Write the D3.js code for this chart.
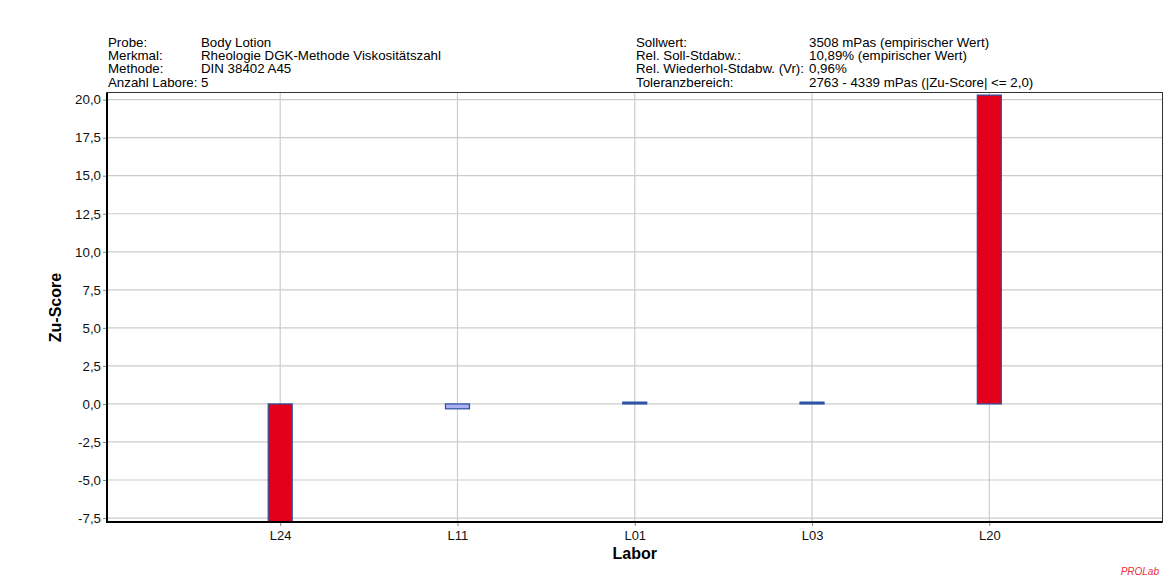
<!DOCTYPE html>
<html>
<head>
<meta charset="utf-8">
<script src="https://cdn.jsdelivr.net/npm/d3@7"></script>
<style>
  html, body { margin: 0; padding: 0; background: #fff; }
  svg { display: block; font-family: "Liberation Sans", Arial, sans-serif; }
</style>
</head>
<body>
<svg id="chart" width="1171" height="581"></svg>
<script>
// Z-scores per laboratory
const labs = ["L24", "L11", "L01", "L03", "L20"];
const zScores = [-7.9, -0.32, 0.12, 0.12, 20.3];
const barFills = ["#e2001a", "#aab0f2", "#2a55b0", "#2a55b0", "#e2001a"];
const yTicks = [-7.5, -5, -2.5, 0, 2.5, 5, 7.5, 10, 12.5, 15, 17.5, 20];

// Header information block
const infoLeftLabels = ["Probe:", "Merkmal:", "Methode:", "Anzahl Labore:"];
const infoLeftValues = ["Body Lotion", "Rheologie DGK-Methode Viskositätszahl", "DIN 38402 A45", "5"];
const infoRightLabels = ["Sollwert:", "Rel. Soll-Stdabw.:", "Rel. Wiederhol-Stdabw. (Vr):", "Toleranzbereich:"];
const infoRightValues = ["3508 mPas (empirischer Wert)", "10,89% (empirischer Wert)", "0,96%", "2763 - 4339 mPas (|Zu-Score| <= 2,0)"];

const svg = d3.select("#chart");
const plot = { left: 107, right: 1162.5, top: 92.5, bottom: 522 };

const x = d3.scalePoint().domain(labs).range([plot.left, plot.right]).padding(0.977);
const y = d3.scaleLinear().domain([-7.76, 20.47]).range([plot.bottom, plot.top]);
const fmt = v => d3.format(".1f")(v).replace(".", ",").replace("−", "-");

// Header text
const header = svg.append("g").attr("font-size", 13.3).attr("fill", "#000");
infoLeftLabels.forEach((t, i) => {
  const yy = 46.7 + i * 13.33;
  header.append("text").attr("x", 108).attr("y", yy).text(t);
  header.append("text").attr("x", 201).attr("y", yy).text(infoLeftValues[i]);
});
infoRightLabels.forEach((t, i) => {
  const yy = 46.7 + i * 13.33;
  header.append("text").attr("x", 636).attr("y", yy).text(t);
  header.append("text").attr("x", 809).attr("y", yy).text(infoRightValues[i]);
});

// Grid lines
const grid = svg.append("g").attr("stroke", "#cccccc").attr("stroke-width", 1.2);
grid.selectAll("line.h").data(yTicks).join("line")
  .attr("x1", plot.left).attr("x2", plot.right)
  .attr("y1", d => y(d)).attr("y2", d => y(d));
grid.selectAll("line.v").data(labs).join("line")
  .attr("y1", plot.top).attr("y2", plot.bottom)
  .attr("x1", d => x(d)).attr("x2", d => x(d));

// Bars
svg.append("clipPath").attr("id", "plotClip")
  .append("rect").attr("x", plot.left).attr("y", plot.top)
  .attr("width", plot.right - plot.left).attr("height", plot.bottom - plot.top);
const barW = 24;
svg.append("g").attr("clip-path", "url(#plotClip)")
  .selectAll("rect").data(labs).join("rect")
  .attr("x", d => x(d) - barW / 2)
  .attr("width", barW)
  .attr("y", (d, i) => Math.min(y(zScores[i]), y(0)))
  .attr("height", (d, i) => Math.abs(y(zScores[i]) - y(0)))
  .attr("fill", (d, i) => barFills[i])
  .attr("stroke", "#2a4fa0")
  .attr("stroke-width", 1.2);

// Y axis
const yAxis = svg.append("g")
  .attr("transform", `translate(${plot.left},0)`)
  .call(d3.axisLeft(y).tickValues(yTicks).tickFormat(fmt).tickSize(4).tickPadding(2));
yAxis.select(".domain").remove();
yAxis.selectAll("line").attr("stroke", "#888");
yAxis.selectAll("text").attr("font-size", 13.3).attr("fill", "#111").attr("font-family", "Liberation Sans, Arial, sans-serif");

// X axis
const xAxis = svg.append("g")
  .attr("transform", `translate(0,${plot.bottom})`)
  .call(d3.axisBottom(x).tickSize(4).tickPadding(5));
xAxis.select(".domain").remove();
xAxis.selectAll("line").attr("stroke", "#888");
xAxis.selectAll("text").attr("font-size", 13).attr("fill", "#111").attr("font-family", "Liberation Sans, Arial, sans-serif");

// Plot frame
svg.append("rect")
  .attr("x", plot.left).attr("y", plot.top)
  .attr("width", plot.right - plot.left).attr("height", plot.bottom - plot.top)
  .attr("fill", "none").attr("stroke", "#333").attr("stroke-width", 1);
svg.append("line").attr("x1", plot.left).attr("x2", plot.left)
  .attr("y1", plot.top).attr("y2", plot.bottom + 1)
  .attr("stroke", "#000").attr("stroke-width", 2);
svg.append("line").attr("x1", plot.left - 1).attr("x2", plot.right)
  .attr("y1", plot.bottom).attr("y2", plot.bottom)
  .attr("stroke", "#000").attr("stroke-width", 2);

// Axis titles
svg.append("text")
  .attr("transform", "translate(60.5,307.5) rotate(-90)")
  .attr("text-anchor", "middle").attr("font-size", 16).attr("font-weight", "bold")
  .text("Zu-Score");
svg.append("text")
  .attr("x", (plot.left + plot.right) / 2).attr("y", 559)
  .attr("text-anchor", "middle").attr("font-size", 16).attr("font-weight", "bold")
  .text("Labor");

// Footer mark
svg.append("text")
  .attr("x", 1159).attr("y", 575).attr("text-anchor", "end")
  .attr("font-size", 10).attr("font-style", "italic").attr("fill", "#e8303c")
  .text("PROLab");
</script>
</body>
</html>
